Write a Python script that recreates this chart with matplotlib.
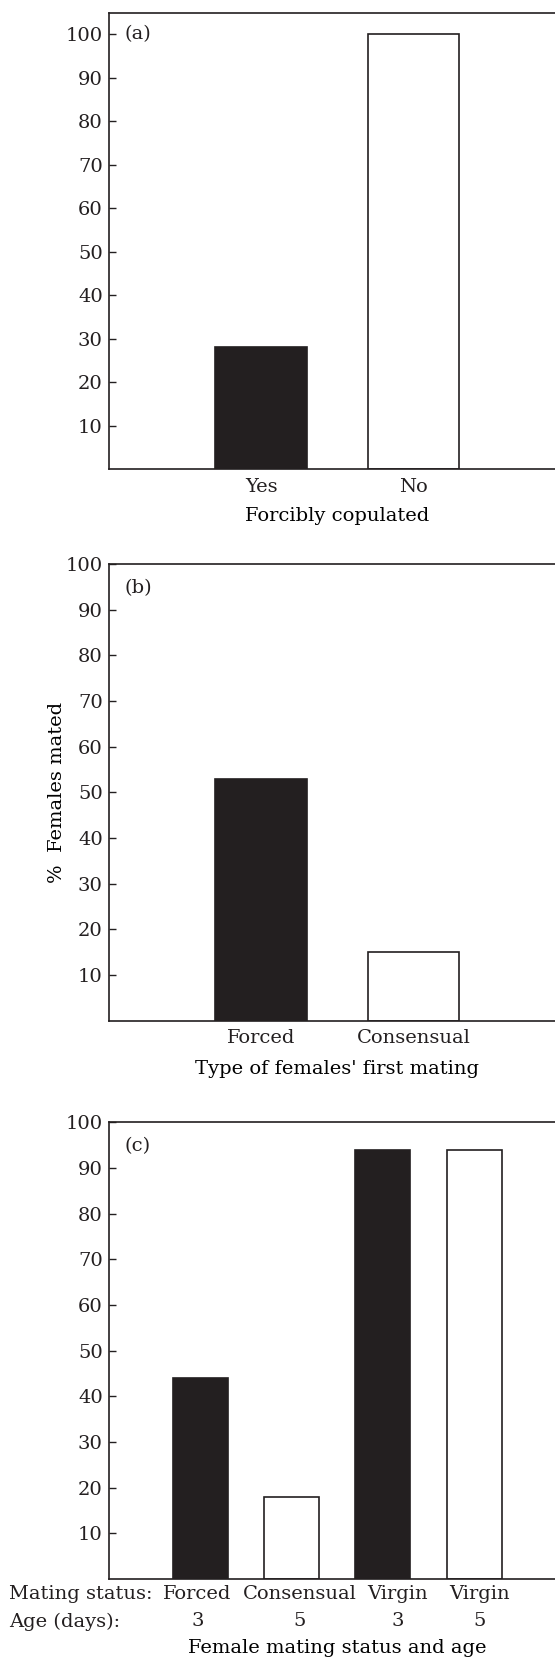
import matplotlib.pyplot as plt

# Percentage of females mated
a_labels = ['Yes', 'No']
a_values = [28, 100]

b_labels = ['Forced', 'Consensual']
b_values = [53, 15]

c_status = ['Forced', 'Consensual', 'Virgin', 'Virgin']
c_age = ['3', '5', '3', '5']
c_values = [44, 18, 94, 94]

yticks = [10, 20, 30, 40, 50, 60, 70, 80, 90, 100]

INK = '#231f20'
plt.rcParams['font.family'] = ['DejaVu Serif']
plt.rcParams['font.size'] = 14
plt.rcParams['text.color'] = INK
plt.rcParams['axes.edgecolor'] = INK
plt.rcParams['xtick.color'] = INK
plt.rcParams['ytick.color'] = INK

W, H = 555, 1663
fig = plt.figure(figsize=(W / 100, H / 100), dpi=100)


def make_axes(top, bottom, left=108.7, width=457):
    # axes box from pixel positions; the right side runs off the page
    return fig.add_axes([left / W, 1 - bottom / H, width / W, (bottom - top) / H])


def style(ax, ymax, panel, label_y):
    ax.set_ylim(0, ymax)
    ax.set_yticks(yticks)
    for s in ax.spines.values():
        s.set_linewidth(1.2)
    ax.tick_params(axis='y', direction='in', length=4.7, width=1.0, pad=4.3, labelsize=14)
    ax.tick_params(axis='x', length=0, pad=6.2, labelsize=14)
    ax.text(0.035, label_y, panel, transform=ax.transAxes, ha='left', va='center', fontsize=14)


fills = [INK, 'white', INK, 'white']

# (a)
ax1 = make_axes(12.7, 469)
xa = list(range(1, len(a_values) + 1))
ax1.bar(xa, a_values, width=0.6, color=fills[:2], edgecolor=INK, linewidth=1.2)
ax1.set_xlim(0, 3)
ax1.set_xticks(xa)
ax1.set_xticklabels(a_labels)
style(ax1, 105, '(a)', 0.954)
ax1.set_xlabel('Forcibly copulated', fontsize=14)
ax1.xaxis.set_label_coords(0.5, -0.083)

# (b)
ax2 = make_axes(564, 1020.7)
xb = list(range(1, len(b_values) + 1))
ax2.bar(xb, b_values, width=0.6, color=fills[:2], edgecolor=INK, linewidth=1.2)
ax2.set_xlim(0, 3)
ax2.set_xticks(xb)
ax2.set_xticklabels(b_labels)
style(ax2, 100, '(b)', 0.947)
ax2.set_xlabel("Type of females' first mating", fontsize=14)
ax2.xaxis.set_label_coords(0.5, -0.085)
ax2.set_ylabel('%  Females mated', fontsize=14)
ax2.yaxis.set_label_coords(-0.093, 0.5)

# (c)
ax3 = make_axes(1122.3, 1579)
xc = list(range(1, len(c_values) + 1))
ax3.bar(xc, c_values, width=0.6, color=fills, edgecolor=INK, linewidth=1.2)
ax3.set_xlim(0, 5)
ax3.set_xticks([])
style(ax3, 100, '(c)', 0.947)

# two-row category labels under panel (c)
shift = [-0.03, 0.09, 0.16, 0.06]
tr = ax3.get_xaxis_transform()
row1, row2 = -0.033, -0.093
ax3.text(-1.09, row1, 'Mating status:', transform=tr, ha='left', va='center', fontsize=14)
ax3.text(-1.09, row2, 'Age (days):', transform=tr, ha='left', va='center', fontsize=14)
for x, st, ag, dx in zip(xc, c_status, c_age, shift):
    ax3.text(x + dx, row1, st, transform=tr, ha='center', va='center', fontsize=14)
    ax3.text(x + dx, row2, ag, transform=tr, ha='center', va='center', fontsize=14)
ax3.set_xlabel('Female mating status and age', fontsize=14)
ax3.xaxis.set_label_coords(0.5, -0.131)

fig.savefig('out.png', dpi=100)
